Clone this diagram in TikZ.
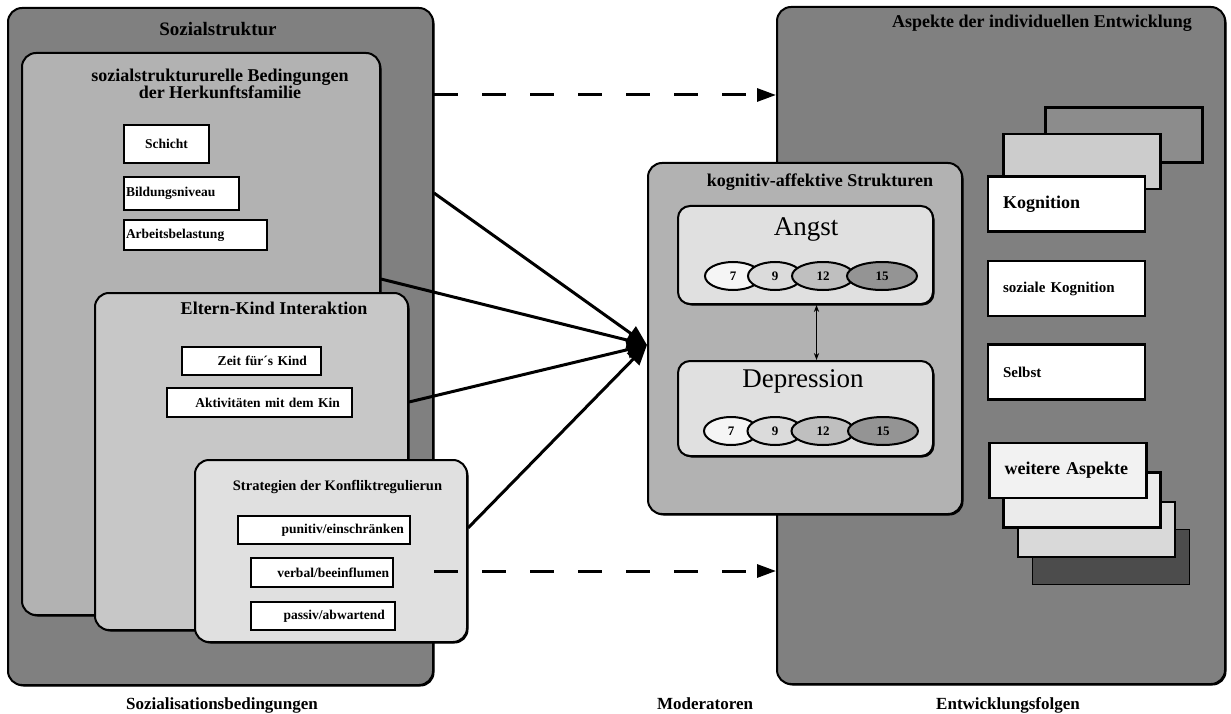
\documentclass[tikz,border=0pt]{standalone}
\usepackage{fontspec}
\setmainfont{Liberation Serif}
\usetikzlibrary{arrows.meta,shadows,shapes.geometric}

\tikzset{
  panel/.style={draw=black, line width=2pt, rounded corners=14pt,
    drop shadow={shadow xshift=1.5pt, shadow yshift=-1.5pt, fill=black, opacity=1}},
  head/.style={inner sep=0pt, font=\bfseries\fontsize{18}{17}\selectfont},
  tag/.style={draw=black, line width=2.2pt, fill=white, inner ysep=0pt,
    font=\bfseries\fontsize{13.5}{14}\selectfont},
  card/.style={draw=black, line width=2.2pt, inner xsep=15pt, inner ysep=0pt,
    minimum height=55pt, text width=127pt, align=left},
  age/.style={ellipse, draw=black, line width=2pt, minimum height=28pt,
    inner sep=0pt, font=\bfseries\fontsize{13}{13}\selectfont},
  caption/.style={inner sep=0pt, anchor=base, font=\bfseries\fontsize{17}{17}\selectfont},
  feed/.style={line width=3pt, -{Triangle[length=20pt,width=17pt]}},
  dasharrow/.style={line width=3pt, dash pattern=on 24pt off 24pt,
    -{Triangle[length=19pt,width=13pt]}}
}

\begin{document}
\begin{tikzpicture}[x=1pt, y=-1pt]
    \useasboundingbox[fill=white] (0,0) rectangle (1231,714);

    % Sozialisationsbedingungen
    \node[panel, fill=black!50, minimum width=425pt, minimum height=677pt] (soz) at (220.5,346.5) {};
    \node[head, font=\bfseries\fontsize{19}{19}\selectfont] (sozt) at (218,29) {Sozialstruktur};
    \node[panel, fill=black!30, minimum width=358pt, minimum height=562pt] (herk) at (201,334) {};
    \node[head, align=center] (herkt) at (220,84) {sozialstruktururelle Bedingungen\\der Herkunftsfamilie};
    \node[tag, minimum width=85pt, minimum height=38pt] (schicht) at (166.5,144) {Schicht};
    \node[tag, inner xsep=2pt, text width=111pt, align=left, minimum height=33pt] (bildung) at (181.5,193.5) {Bildungsniveau};
    \node[tag, inner xsep=2pt, text width=139pt, align=left, minimum height=30pt] (arbeit) at (195.5,235) {Arbeitsbelastung};

    \node[panel, fill=black!22, minimum width=313pt, minimum height=337pt] (eltern) at (251.5,461.5) {};
    \node[head] (eltt) at (274,308) {Eltern-Kind Interaktion};
    \node[tag, inner xsep=14pt, text width=111pt, align=right, minimum height=28pt] (zeit) at (251.5,361) {Zeit für´s Kind};
    \node[tag, inner xsep=12pt, text width=161pt, align=right, minimum height=29pt] (aktiv) at (259.5,402.5) {Aktivitäten mit dem Kin};

    \node[panel, fill=black!12, minimum width=272pt, minimum height=182pt] (strat) at (331,551) {};
    \node[head, font=\bfseries\fontsize{14.5}{15}\selectfont] (stratt) at (337.5,487) {Strategien der Konfliktregulierun};
    \node[tag, inner xsep=6pt, text width=160pt, align=right, minimum height=28pt] (punitiv) at (324,530) {punitiv/einschränken};
    \node[tag, inner xsep=4pt, text width=134pt, align=right, minimum height=29pt] (verbal) at (322,572.5) {verbal/beeinflumen};
    \node[tag, inner xsep=10pt, text width=124pt, align=right, minimum height=28pt] (passiv) at (323,616) {passiv/abwartend};

    % Entwicklungsfolgen
    \node[panel, fill=black!50, minimum width=448pt, minimum height=677pt] (asp) at (1001,345.5) {};
    \node[head] (aspt) at (1042,23) {Aspekte der individuellen Entwicklung};
    \node[card, fill=black!45, minimum width=156pt] (kback1) at (1124,135) {};
    \node[card, fill=black!20, minimum width=152pt] (kback2) at (1082,161.5) {};
    \node[card, fill=white, font=\bfseries\fontsize{18}{18}\selectfont] (kogn) at (1066.5,204) {Kognition};
    \node[card, fill=white, font=\bfseries\fontsize{15}{15}\selectfont] (sozk) at (1066.5,288.5) {soziale Kognition};
    \node[card, fill=white, font=\bfseries\fontsize{15}{15}\selectfont] (selbst) at (1066.5,372) {Selbst};
    \node[card, fill=black!70, line width=1pt] (wback3) at (1110.5,556.5) {};
    \node[card, fill=black!15] (wback2) at (1096.5,529.5) {};
    \node[card, fill=black!8] (wback1) at (1082,500) {};
    \node[card, fill=black!5, font=\bfseries\fontsize{18}{18}\selectfont] (weitere) at (1068,470.5) {weitere Aspekte\\[6pt]};

    % Moderatoren
    \node[panel, fill=black!30, minimum width=314pt, minimum height=351pt] (kog) at (805,338.5) {};
    \node[head] (kogt) at (820,182) {kognitiv-affektive Strukturen};
    \node[panel, fill=black!12, rounded corners=12pt, minimum width=255pt, minimum height=98pt] (angst) at (805.5,255) {};
    \node[inner sep=0pt, font=\fontsize{27}{27}\selectfont] (angstt) at (806,230) {Angst};
    \node[panel, fill=black!12, rounded corners=12pt, minimum width=255pt, minimum height=95pt] (depr) at (805.5,408.5) {};
    \node[inner sep=0pt, font=\fontsize{27}{27}\selectfont] (deprt) at (803,381) {Depression};

    \node[age, fill=black!4,  minimum width=56pt] (a7)  at (733,276) {7};
    \node[age, fill=black!14, minimum width=54pt] (a9)  at (775,276) {9};
    \node[age, fill=black!25, minimum width=62pt] (a12) at (823,276) {12};
    \node[age, fill=black!42, minimum width=70pt] (a15) at (882,276) {15};
    \node[age, fill=black!4,  minimum width=54pt] (d7)  at (731,431) {7};
    \node[age, fill=black!14, minimum width=55pt] (d9)  at (775,431) {9};
    \node[age, fill=black!25, minimum width=63pt] (d12) at (823,431) {12};
    \node[age, fill=black!42, minimum width=70pt] (d15) at (883,431) {15};

    \draw[line width=1.5pt, {Stealth[length=7pt]}-{Stealth[length=7pt]}]
        ([xshift=11pt]angst.south) -- ([xshift=11pt]depr.north);

    % Verbindungen
    \coordinate (hub) at ([yshift=-6.5pt]kog.west);
    \draw[feed] (soz.east |- 0,193) -- (hub);
    \draw[feed] (herk.east |- 0,279) -- (hub);
    \draw[feed] (eltern.east |- 0,402) -- (hub);
    \draw[feed] (strat.east |- 0,528) -- (hub);
    \draw[dasharrow] (soz.east |- 0,95) -- (asp.west |- 0,95);
    \draw[dasharrow] (soz.east |- 0,571) -- (asp.west |- 0,571);

    \node[caption] (capl) at (222,709) {Sozialisationsbedingungen};
    \node[caption] (capm) at (705,709) {Moderatoren};
    \node[caption] (capr) at (1008,709) {Entwicklungsfolgen};
\end{tikzpicture}
\end{document}
